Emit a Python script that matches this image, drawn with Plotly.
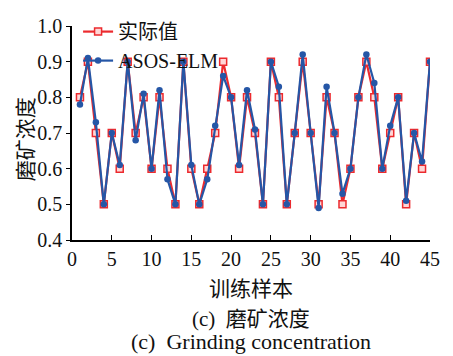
import plotly.graph_objects as go

samples = list(range(1, 46))
actual = [0.8, 0.9, 0.7, 0.5, 0.7, 0.6, 0.9, 0.7, 0.8, 0.6,
          0.8, 0.6, 0.5, 0.9, 0.6, 0.5, 0.6, 0.7, 0.9, 0.8,
          0.6, 0.8, 0.7, 0.5, 0.9, 0.8, 0.5, 0.7, 0.9, 0.7,
          0.5, 0.8, 0.7, 0.5, 0.6, 0.8, 0.9, 0.8, 0.6, 0.7,
          0.8, 0.5, 0.7, 0.6, 0.9]
predicted = [0.78, 0.91, 0.73, 0.5, 0.7, 0.61, 0.9, 0.68, 0.81, 0.6,
             0.82, 0.57, 0.5, 0.9, 0.61, 0.5, 0.57, 0.72, 0.86, 0.8,
             0.61, 0.82, 0.71, 0.5, 0.9, 0.83, 0.5, 0.7, 0.92, 0.7,
             0.49, 0.83, 0.7, 0.53, 0.6, 0.8, 0.92, 0.84, 0.6, 0.72,
             0.8, 0.51, 0.7, 0.62, 0.9]
x_ticks = [0, 5, 10, 15, 20, 25, 30, 35, 40, 45]
y_ticks = [0.4, 0.5, 0.6, 0.7, 0.8, 0.9, 1.0]

RED = "#ec2a2e"
BLUE = "#2556a6"
FONT = "'Liberation Serif', 'Times New Roman', 'Noto Sans CJK SC', serif"

fig = go.Figure()
fig.add_trace(go.Scatter(
    x=samples, y=actual, name="实际值", mode="lines+markers",
    line=dict(color=RED, width=2.2),
    marker=dict(symbol="square", size=7, color="#ffd6d6", line=dict(color=RED, width=1.5)),
))
fig.add_trace(go.Scatter(
    x=samples, y=predicted, name="ASOS-ELM", mode="lines+markers",
    line=dict(color=BLUE, width=2.2),
    marker=dict(symbol="circle", size=6.5, color=BLUE),
))

fig.update_layout(
    width=453, height=356,
    margin=dict(l=72, r=23, t=16.5, b=115.5),
    paper_bgcolor="white", plot_bgcolor="white",
    font=dict(family=FONT, size=20, color="#111"),
    showlegend=True,
    legend=dict(x=0.017, y=1.065, xanchor="left", yanchor="top",
                bgcolor="rgba(0,0,0,0)", font=dict(size=20, family=FONT),
                itemwidth=30, tracegroupgap=0),
    xaxis=dict(range=[0, 45], tickvals=x_ticks, ticks="inside", ticklen=5,
               tickcolor="black", showline=True, linecolor="black", linewidth=1.5,
               showgrid=False, zeroline=False, mirror=False,
               tickfont=dict(size=20, family=FONT),
               title=dict(text="训练样本", font=dict(size=21, family=FONT), standoff=13)),
    yaxis=dict(range=[0.4, 1.0], tickvals=y_ticks, tickformat=".1f", ticks="outside",
               ticklen=4, tickcolor="black", showline=True, linecolor="black",
               linewidth=1.5, showgrid=False, zeroline=False,
               tickfont=dict(size=20, family=FONT)),
)

fig.add_annotation(text="磨矿浓度", xref="paper", yref="paper",
                   x=-0.126, y=0.47, xanchor="center", yanchor="middle",
                   textangle=-90, showarrow=False, font=dict(size=21, family=FONT))
fig.add_annotation(text="(c)  磨矿浓度", xref="paper", yref="paper",
                   x=0.5, y=-0.367, xanchor="center", yanchor="middle",
                   showarrow=False, font=dict(size=21, family=FONT))
fig.add_annotation(text="(c)  Grinding concentration", xref="paper", yref="paper",
                   x=0.5, y=-0.474, xanchor="center", yanchor="middle",
                   showarrow=False, font=dict(size=22, family=FONT))

fig.write_html("out.html")
